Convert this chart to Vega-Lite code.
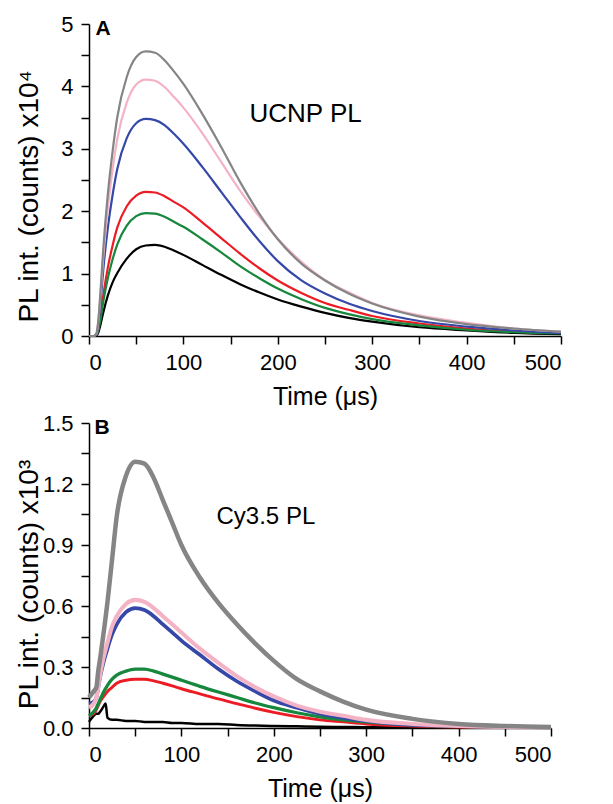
{
  "$schema": "https://vega.github.io/schema/vega-lite/v6.json",
  "padding": {"left": 15, "top": 13, "right": 5, "bottom": 5},
  "spacing": 3,
  "config": {
    "view": {"stroke": null},
    "font": "Liberation Sans",
    "axis": {"grid": false, "domainColor": "#000", "domainWidth": 1.5, "tickColor": "#000", "tickWidth": 1.5, "tickSize": 8, "labelColor": "#000", "labelFontSize": 22, "labelPadding": 8, "titleColor": "#000", "titleFontWeight": "normal", "titleFont": "Liberation Sans", "labelFont": "Liberation Sans"}
  },
  "datasets": {
    "A": [
      {"s":"s1","t":0,"v":0},{"s":"s1","t":5,"v":0},{"s":"s1","t":8,"v":0.01},{"s":"s1","t":10,"v":0.06},{"s":"s1","t":12,"v":0.17},{"s":"s1","t":15,"v":0.37},{"s":"s1","t":20,"v":0.65},{"s":"s1","t":25,"v":0.86},{"s":"s1","t":30,"v":1.01},{"s":"s1","t":40,"v":1.24},{"s":"s1","t":50,"v":1.39},{"s":"s1","t":60,"v":1.45},{"s":"s1","t":70,"v":1.46},{"s":"s1","t":80,"v":1.43},{"s":"s1","t":90,"v":1.37},{"s":"s1","t":100,"v":1.3},{"s":"s1","t":120,"v":1.14},{"s":"s1","t":140,"v":0.98},{"s":"s1","t":160,"v":0.83},{"s":"s1","t":180,"v":0.7},{"s":"s1","t":200,"v":0.585},{"s":"s1","t":225,"v":0.47},{"s":"s1","t":250,"v":0.37},{"s":"s1","t":275,"v":0.29},{"s":"s1","t":300,"v":0.23},{"s":"s1","t":350,"v":0.14},{"s":"s1","t":400,"v":0.09},{"s":"s1","t":450,"v":0.05},{"s":"s1","t":500,"v":0.03},
      {"s":"s2","t":0,"v":0},{"s":"s2","t":5,"v":0},{"s":"s2","t":8,"v":0.02},{"s":"s2","t":10,"v":0.12},{"s":"s2","t":12,"v":0.3},{"s":"s2","t":15,"v":0.64},{"s":"s2","t":20,"v":1.1},{"s":"s2","t":25,"v":1.45},{"s":"s2","t":30,"v":1.74},{"s":"s2","t":40,"v":2.08},{"s":"s2","t":50,"v":2.25},{"s":"s2","t":60,"v":2.31},{"s":"s2","t":70,"v":2.3},{"s":"s2","t":80,"v":2.24},{"s":"s2","t":90,"v":2.15},{"s":"s2","t":100,"v":2.06},{"s":"s2","t":120,"v":1.82},{"s":"s2","t":140,"v":1.57},{"s":"s2","t":160,"v":1.32},{"s":"s2","t":180,"v":1.09},{"s":"s2","t":200,"v":0.89},{"s":"s2","t":225,"v":0.69},{"s":"s2","t":250,"v":0.53},{"s":"s2","t":275,"v":0.42},{"s":"s2","t":300,"v":0.32},{"s":"s2","t":350,"v":0.2},{"s":"s2","t":400,"v":0.12},{"s":"s2","t":450,"v":0.07},{"s":"s2","t":500,"v":0.05},
      {"s":"s3","t":0,"v":0},{"s":"s3","t":5,"v":0},{"s":"s3","t":8,"v":0.02},{"s":"s3","t":10,"v":0.1},{"s":"s3","t":12,"v":0.25},{"s":"s3","t":15,"v":0.54},{"s":"s3","t":20,"v":0.93},{"s":"s3","t":25,"v":1.23},{"s":"s3","t":30,"v":1.47},{"s":"s3","t":40,"v":1.77},{"s":"s3","t":50,"v":1.92},{"s":"s3","t":60,"v":1.97},{"s":"s3","t":70,"v":1.96},{"s":"s3","t":80,"v":1.91},{"s":"s3","t":90,"v":1.83},{"s":"s3","t":100,"v":1.75},{"s":"s3","t":120,"v":1.55},{"s":"s3","t":140,"v":1.34},{"s":"s3","t":160,"v":1.12},{"s":"s3","t":180,"v":0.93},{"s":"s3","t":200,"v":0.76},{"s":"s3","t":225,"v":0.59},{"s":"s3","t":250,"v":0.45},{"s":"s3","t":275,"v":0.35},{"s":"s3","t":300,"v":0.27},{"s":"s3","t":350,"v":0.17},{"s":"s3","t":400,"v":0.1},{"s":"s3","t":450,"v":0.06},{"s":"s3","t":500,"v":0.04},
      {"s":"s4","t":0,"v":0},{"s":"s4","t":5,"v":0},{"s":"s4","t":8,"v":0.03},{"s":"s4","t":10,"v":0.2},{"s":"s4","t":12,"v":0.5},{"s":"s4","t":15,"v":1.04},{"s":"s4","t":20,"v":1.74},{"s":"s4","t":25,"v":2.26},{"s":"s4","t":30,"v":2.68},{"s":"s4","t":40,"v":3.17},{"s":"s4","t":50,"v":3.41},{"s":"s4","t":60,"v":3.48},{"s":"s4","t":70,"v":3.46},{"s":"s4","t":80,"v":3.38},{"s":"s4","t":90,"v":3.24},{"s":"s4","t":100,"v":3.08},{"s":"s4","t":120,"v":2.71},{"s":"s4","t":140,"v":2.31},{"s":"s4","t":160,"v":1.91},{"s":"s4","t":180,"v":1.53},{"s":"s4","t":200,"v":1.2},{"s":"s4","t":225,"v":0.89},{"s":"s4","t":250,"v":0.68},{"s":"s4","t":275,"v":0.52},{"s":"s4","t":300,"v":0.4},{"s":"s4","t":350,"v":0.24},{"s":"s4","t":400,"v":0.15},{"s":"s4","t":450,"v":0.09},{"s":"s4","t":500,"v":0.05},
      {"s":"s5","t":0,"v":0},{"s":"s5","t":5,"v":0},{"s":"s5","t":8,"v":0.04},{"s":"s5","t":10,"v":0.25},{"s":"s5","t":12,"v":0.62},{"s":"s5","t":15,"v":1.23},{"s":"s5","t":20,"v":2.06},{"s":"s5","t":25,"v":2.67},{"s":"s5","t":30,"v":3.16},{"s":"s5","t":40,"v":3.74},{"s":"s5","t":50,"v":4.03},{"s":"s5","t":60,"v":4.11},{"s":"s5","t":70,"v":4.09},{"s":"s5","t":80,"v":3.99},{"s":"s5","t":90,"v":3.83},{"s":"s5","t":100,"v":3.66},{"s":"s5","t":120,"v":3.25},{"s":"s5","t":140,"v":2.79},{"s":"s5","t":160,"v":2.33},{"s":"s5","t":180,"v":1.92},{"s":"s5","t":200,"v":1.56},{"s":"s5","t":225,"v":1.19},{"s":"s5","t":250,"v":0.9},{"s":"s5","t":275,"v":0.7},{"s":"s5","t":300,"v":0.53},{"s":"s5","t":350,"v":0.33},{"s":"s5","t":400,"v":0.21},{"s":"s5","t":450,"v":0.12},{"s":"s5","t":500,"v":0.07},
      {"s":"s6","t":0,"v":0},{"s":"s6","t":5,"v":0},{"s":"s6","t":8,"v":0.05},{"s":"s6","t":10,"v":0.27},{"s":"s6","t":12,"v":0.68},{"s":"s6","t":15,"v":1.37},{"s":"s6","t":20,"v":2.28},{"s":"s6","t":25,"v":2.96},{"s":"s6","t":30,"v":3.51},{"s":"s6","t":40,"v":4.15},{"s":"s6","t":50,"v":4.47},{"s":"s6","t":60,"v":4.56},{"s":"s6","t":70,"v":4.54},{"s":"s6","t":80,"v":4.42},{"s":"s6","t":90,"v":4.24},{"s":"s6","t":100,"v":4.04},{"s":"s6","t":120,"v":3.56},{"s":"s6","t":140,"v":3.03},{"s":"s6","t":160,"v":2.47},{"s":"s6","t":180,"v":1.97},{"s":"s6","t":200,"v":1.55},{"s":"s6","t":225,"v":1.16},{"s":"s6","t":250,"v":0.89},{"s":"s6","t":275,"v":0.68},{"s":"s6","t":300,"v":0.52},{"s":"s6","t":350,"v":0.31},{"s":"s6","t":400,"v":0.19},{"s":"s6","t":450,"v":0.12},{"s":"s6","t":500,"v":0.07}
    ],
    "B": [
      {"s":"s1","t":0,"v":0.03},{"s":"s1","t":5,"v":0.06},{"s":"s1","t":8,"v":0.07},{"s":"s1","t":10,"v":0.07},{"s":"s1","t":12,"v":0.08},{"s":"s1","t":15,"v":0.1},{"s":"s1","t":18,"v":0.12},{"s":"s1","t":20,"v":0.05},{"s":"s1","t":25,"v":0.04},{"s":"s1","t":30,"v":0.04},{"s":"s1","t":40,"v":0.035},{"s":"s1","t":50,"v":0.035},{"s":"s1","t":60,"v":0.03},{"s":"s1","t":70,"v":0.03},{"s":"s1","t":80,"v":0.03},{"s":"s1","t":90,"v":0.025},{"s":"s1","t":100,"v":0.025},{"s":"s1","t":120,"v":0.02},{"s":"s1","t":140,"v":0.02},{"s":"s1","t":160,"v":0.015},{"s":"s1","t":180,"v":0.012},{"s":"s1","t":200,"v":0.01},{"s":"s1","t":225,"v":0.008},{"s":"s1","t":250,"v":0.006},{"s":"s1","t":275,"v":0.005},{"s":"s1","t":300,"v":0.004},{"s":"s1","t":350,"v":0.003},{"s":"s1","t":400,"v":0.002},{"s":"s1","t":450,"v":0.001},{"s":"s1","t":500,"v":0.001},
      {"s":"s2","t":0,"v":0.06},{"s":"s2","t":5,"v":0.07},{"s":"s2","t":8,"v":0.09},{"s":"s2","t":10,"v":0.11},{"s":"s2","t":12,"v":0.13},{"s":"s2","t":15,"v":0.15},{"s":"s2","t":20,"v":0.18},{"s":"s2","t":25,"v":0.2},{"s":"s2","t":30,"v":0.22},{"s":"s2","t":40,"v":0.235},{"s":"s2","t":50,"v":0.24},{"s":"s2","t":60,"v":0.24},{"s":"s2","t":70,"v":0.232},{"s":"s2","t":80,"v":0.22},{"s":"s2","t":90,"v":0.207},{"s":"s2","t":100,"v":0.193},{"s":"s2","t":120,"v":0.168},{"s":"s2","t":140,"v":0.143},{"s":"s2","t":160,"v":0.12},{"s":"s2","t":180,"v":0.097},{"s":"s2","t":200,"v":0.077},{"s":"s2","t":225,"v":0.056},{"s":"s2","t":250,"v":0.04},{"s":"s2","t":275,"v":0.03},{"s":"s2","t":300,"v":0.02},{"s":"s2","t":350,"v":0.01},{"s":"s2","t":400,"v":0.005},{"s":"s2","t":450,"v":0.003},{"s":"s2","t":500,"v":0.002},
      {"s":"s3","t":0,"v":0.06},{"s":"s3","t":5,"v":0.08},{"s":"s3","t":8,"v":0.1},{"s":"s3","t":10,"v":0.12},{"s":"s3","t":12,"v":0.14},{"s":"s3","t":15,"v":0.17},{"s":"s3","t":20,"v":0.21},{"s":"s3","t":25,"v":0.24},{"s":"s3","t":30,"v":0.26},{"s":"s3","t":40,"v":0.28},{"s":"s3","t":50,"v":0.29},{"s":"s3","t":60,"v":0.29},{"s":"s3","t":70,"v":0.28},{"s":"s3","t":80,"v":0.265},{"s":"s3","t":90,"v":0.25},{"s":"s3","t":100,"v":0.235},{"s":"s3","t":120,"v":0.205},{"s":"s3","t":140,"v":0.177},{"s":"s3","t":160,"v":0.15},{"s":"s3","t":180,"v":0.123},{"s":"s3","t":200,"v":0.1},{"s":"s3","t":225,"v":0.075},{"s":"s3","t":250,"v":0.055},{"s":"s3","t":275,"v":0.04},{"s":"s3","t":300,"v":0.03},{"s":"s3","t":350,"v":0.015},{"s":"s3","t":400,"v":0.008},{"s":"s3","t":450,"v":0.004},{"s":"s3","t":500,"v":0.002},
      {"s":"s4","t":0,"v":0.12},{"s":"s4","t":5,"v":0.13},{"s":"s4","t":8,"v":0.15},{"s":"s4","t":10,"v":0.2},{"s":"s4","t":12,"v":0.25},{"s":"s4","t":15,"v":0.31},{"s":"s4","t":20,"v":0.39},{"s":"s4","t":25,"v":0.46},{"s":"s4","t":30,"v":0.51},{"s":"s4","t":40,"v":0.57},{"s":"s4","t":50,"v":0.59},{"s":"s4","t":60,"v":0.58},{"s":"s4","t":70,"v":0.55},{"s":"s4","t":80,"v":0.51},{"s":"s4","t":90,"v":0.47},{"s":"s4","t":100,"v":0.43},{"s":"s4","t":120,"v":0.36},{"s":"s4","t":140,"v":0.29},{"s":"s4","t":160,"v":0.23},{"s":"s4","t":180,"v":0.18},{"s":"s4","t":200,"v":0.135},{"s":"s4","t":225,"v":0.1},{"s":"s4","t":250,"v":0.07},{"s":"s4","t":275,"v":0.05},{"s":"s4","t":300,"v":0.035},{"s":"s4","t":350,"v":0.015},{"s":"s4","t":400,"v":0.01},{"s":"s4","t":450,"v":0.005},{"s":"s4","t":500,"v":0.003},
      {"s":"s5","t":0,"v":0.1},{"s":"s5","t":5,"v":0.12},{"s":"s5","t":8,"v":0.15},{"s":"s5","t":10,"v":0.2},{"s":"s5","t":12,"v":0.26},{"s":"s5","t":15,"v":0.33},{"s":"s5","t":20,"v":0.42},{"s":"s5","t":25,"v":0.5},{"s":"s5","t":30,"v":0.55},{"s":"s5","t":40,"v":0.61},{"s":"s5","t":50,"v":0.63},{"s":"s5","t":60,"v":0.62},{"s":"s5","t":70,"v":0.59},{"s":"s5","t":80,"v":0.55},{"s":"s5","t":90,"v":0.51},{"s":"s5","t":100,"v":0.47},{"s":"s5","t":120,"v":0.39},{"s":"s5","t":140,"v":0.32},{"s":"s5","t":160,"v":0.255},{"s":"s5","t":180,"v":0.2},{"s":"s5","t":200,"v":0.155},{"s":"s5","t":225,"v":0.11},{"s":"s5","t":250,"v":0.08},{"s":"s5","t":275,"v":0.06},{"s":"s5","t":300,"v":0.04},{"s":"s5","t":350,"v":0.02},{"s":"s5","t":400,"v":0.01},{"s":"s5","t":450,"v":0.005},{"s":"s5","t":500,"v":0.003},
      {"s":"s6","t":0,"v":0.15},{"s":"s6","t":5,"v":0.18},{"s":"s6","t":8,"v":0.2},{"s":"s6","t":10,"v":0.28},{"s":"s6","t":12,"v":0.34},{"s":"s6","t":15,"v":0.44},{"s":"s6","t":20,"v":0.62},{"s":"s6","t":25,"v":0.83},{"s":"s6","t":30,"v":1.04},{"s":"s6","t":40,"v":1.24},{"s":"s6","t":50,"v":1.31},{"s":"s6","t":60,"v":1.3},{"s":"s6","t":70,"v":1.23},{"s":"s6","t":80,"v":1.12},{"s":"s6","t":90,"v":1.01},{"s":"s6","t":100,"v":0.9},{"s":"s6","t":120,"v":0.74},{"s":"s6","t":140,"v":0.615},{"s":"s6","t":160,"v":0.51},{"s":"s6","t":180,"v":0.415},{"s":"s6","t":200,"v":0.33},{"s":"s6","t":225,"v":0.24},{"s":"s6","t":250,"v":0.18},{"s":"s6","t":275,"v":0.13},{"s":"s6","t":300,"v":0.09},{"s":"s6","t":350,"v":0.045},{"s":"s6","t":400,"v":0.02},{"s":"s6","t":450,"v":0.01},{"s":"s6","t":500,"v":0.005}
    ]
  },
  "vconcat": [
    {
      "width": 472,
      "height": 312,
      "encoding": {
        "x": {"field": "t", "type": "quantitative", "scale": {"domain": [0, 500], "nice": false, "zero": false},
          "axis": {"title": "Time (μs)", "titleFontSize": 25, "titlePadding": 11, "values": [0,50,100,150,200,250,300,350,400,450,500], "labelExpr": "datum.value % 100 === 0 ? format(datum.value, 'd') : ''"}},
        "y": {"field": "v", "type": "quantitative", "scale": {"domain": [0, 5], "nice": false},
          "axis": {"title": "PL int. (counts) x10⁴", "titleFontSize": 28, "titleX": -46, "titleY": 172, "values": [0,0.5,1,1.5,2,2.5,3,3.5,4,4.5,5], "labelExpr": "datum.value % 1 === 0 ? format(datum.value, 'd') : ''"}}
      },
      "layer": [
        {
          "data": {"name": "A"},
          "mark": {"type": "line", "strokeWidth": 2.2, "interpolate": "monotone"},
          "encoding": {
            "color": {"field": "s", "type": "nominal", "scale": {"domain": ["s1","s2","s3","s4","s5","s6"], "range": ["#000000","#ec1c24","#16873c","#3548a8","#f4b3c4","#858585"]}, "legend": null}
          }
        },
        {
          "data": {"values": [{"t": 7, "v": 4.92, "txt": "A"}]},
          "mark": {"type": "text", "align": "left", "baseline": "middle", "fontWeight": "bold", "fontSize": 21, "font": "Liberation Sans", "color": "#000"},
          "encoding": {"text": {"field": "txt"}}
        },
        {
          "data": {"values": [{"t": 170, "v": 3.55, "txt": "UCNP PL"}]},
          "mark": {"type": "text", "align": "left", "baseline": "middle", "fontSize": 26, "font": "Liberation Sans", "color": "#000"},
          "encoding": {"text": {"field": "txt"}}
        }
      ]
    },
    {
      "width": 462,
      "height": 305,
      "encoding": {
        "x": {"field": "t", "type": "quantitative", "scale": {"domain": [0, 500], "nice": false, "zero": false},
          "axis": {"title": "Time (μs)", "titleFontSize": 25, "titlePadding": 11, "values": [0,50,100,150,200,250,300,350,400,450,500], "labelExpr": "datum.value % 100 === 0 ? format(datum.value, 'd') : ''"}},
        "y": {"field": "v", "type": "quantitative", "scale": {"domain": [0, 1.5], "nice": false},
          "axis": {"title": "PL int. (counts) x10³", "titleFontSize": 28, "titleX": -46, "titleY": 161, "values": [0,0.15,0.3,0.45,0.6,0.75,0.9,1.05,1.2,1.35,1.5], "labelExpr": "round(datum.value*100) % 30 === 0 ? format(datum.value, '.1f') : ''"}}
      },
      "layer": [
        {
          "data": {"name": "B"},
          "mark": {"type": "line", "interpolate": "monotone"},
          "encoding": {
            "color": {"field": "s", "type": "nominal", "scale": {"domain": ["s1","s2","s3","s4","s5","s6"], "range": ["#000000","#ec1c24","#16873c","#3548a8","#f4b3c4","#858585"]}, "legend": null},
            "strokeWidth": {"field": "s", "type": "ordinal", "scale": {"domain": ["s1","s2","s3","s4","s5","s6"], "range": [2.5,4.5,4.5,4,5,5.5]}, "legend": null}
          }
        },
        {
          "data": {"values": [{"t": 6, "v": 1.476, "txt": "B"}]},
          "mark": {"type": "text", "align": "left", "baseline": "middle", "fontWeight": "bold", "fontSize": 21, "font": "Liberation Sans", "color": "#000"},
          "encoding": {"text": {"field": "txt"}}
        },
        {
          "data": {"values": [{"t": 138, "v": 1.04, "txt": "Cy3.5 PL"}]},
          "mark": {"type": "text", "align": "left", "baseline": "middle", "fontSize": 24, "font": "Liberation Sans", "color": "#000"},
          "encoding": {"text": {"field": "txt"}}
        }
      ]
    }
  ]
}
